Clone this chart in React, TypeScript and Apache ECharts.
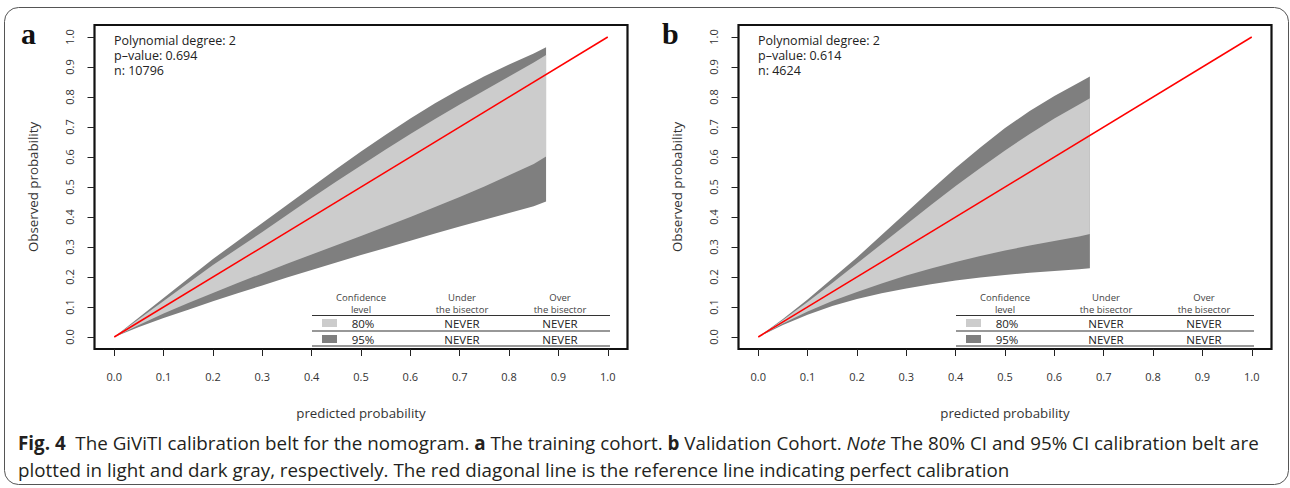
import React, { useEffect, useRef } from "react";
import * as echarts from "echarts";

// ---------- data ----------
const TICKS = [0, 0.1, 0.2, 0.3, 0.4, 0.5, 0.6, 0.7, 0.8, 0.9, 1.0];
const REF_X = [0, 1];
const REF_Y = [0, 1];

// Panel a: training cohort
const XA = [0, 0.05, 0.1, 0.15, 0.2, 0.25, 0.3, 0.35, 0.4, 0.45, 0.5, 0.55, 0.6, 0.65, 0.7, 0.75, 0.8, 0.85, 0.875];
const A_U95 = [0, 0.065, 0.13, 0.195, 0.26, 0.32, 0.38, 0.44, 0.5, 0.56, 0.618, 0.674, 0.728, 0.779, 0.826, 0.869, 0.908, 0.945, 0.966];
const A_U80 = [0, 0.06, 0.12, 0.18, 0.24, 0.295, 0.35, 0.407, 0.463, 0.518, 0.572, 0.625, 0.677, 0.727, 0.775, 0.822, 0.868, 0.915, 0.94];
const A_L80 = [0, 0.04, 0.078, 0.113, 0.147, 0.18, 0.212, 0.244, 0.275, 0.306, 0.337, 0.368, 0.4, 0.433, 0.467, 0.502, 0.539, 0.577, 0.602];
const A_L95 = [0, 0.033, 0.063, 0.091, 0.119, 0.146, 0.172, 0.198, 0.223, 0.248, 0.273, 0.297, 0.321, 0.345, 0.368, 0.391, 0.413, 0.436, 0.452];

// Panel b: validation cohort
const XB = [0, 0.05, 0.1, 0.15, 0.2, 0.25, 0.3, 0.35, 0.4, 0.45, 0.5, 0.55, 0.6, 0.65, 0.672];
const B_U95 = [0, 0.06, 0.125, 0.195, 0.265, 0.34, 0.415, 0.49, 0.563, 0.632, 0.697, 0.753, 0.803, 0.848, 0.868];
const B_U80 = [0, 0.057, 0.117, 0.18, 0.245, 0.31, 0.375, 0.44, 0.503, 0.563, 0.622, 0.677, 0.728, 0.775, 0.796];
const B_L80 = [0, 0.045, 0.085, 0.12, 0.15, 0.178, 0.205, 0.228, 0.25, 0.27, 0.288, 0.305, 0.32, 0.335, 0.343];
const B_L95 = [0, 0.04, 0.074, 0.103, 0.127, 0.146, 0.162, 0.176, 0.188, 0.198, 0.207, 0.214, 0.22, 0.226, 0.229];

const INFO_A = ["Polynomial degree: 2", "p–value: 0.694", "n: 10796"];
const INFO_B = ["Polynomial degree: 2", "p–value: 0.614", "n: 4624"];
const TABLE_HEAD = [["Confidence", "level"], ["Under", "the bisector"], ["Over", "the bisector"]];
const TABLE_ROWS = [["80%", "NEVER", "NEVER"], ["95%", "NEVER", "NEVER"]];

const LIGHT = "#cccccc";
const DARK = "#7f7f7f";
const FONT = "'Open Sans', 'Noto Sans', sans-serif";
const TXT = "#333333";

function bandSeries(xs: number[], up: number[], lo: number[], color: string, idx: number) {
  return {
    type: "custom",
    xAxisIndex: idx,
    yAxisIndex: idx,
    silent: true,
    data: [[0, 0]],
    renderItem: (_p: any, api: any) => {
      const pts: number[][] = [];
      for (let i = 0; i < xs.length; i++) pts.push(api.coord([xs[i], up[i]]));
      for (let i = xs.length - 1; i >= 0; i--) pts.push(api.coord([xs[i], lo[i]]));
      return { type: "polygon", shape: { points: pts }, style: { fill: color, stroke: null } };
    },
  };
}

function xAxisDef(idx: number) {
  return {
    type: "value",
    gridIndex: idx,
    min: -0.04,
    max: 1.04,
    axisLine: { show: false, onZero: false },
    splitLine: { show: false },
    axisTick: { show: true, length: 7, customValues: TICKS, lineStyle: { color: "#222", width: 1 } },
    axisLabel: {
      customValues: TICKS,
      formatter: (v: number) => v.toFixed(1),
      margin: 22,
      fontSize: 11,
      fontFamily: FONT,
      color: TXT,
    },
    name: "predicted probability",
    nameLocation: "middle",
    nameGap: 57,
    nameTextStyle: { fontSize: 13.3, fontFamily: FONT, color: TXT },
  };
}

function yAxisDef(idx: number) {
  return {
    type: "value",
    gridIndex: idx,
    min: -0.04,
    max: 1.04,
    axisLine: { show: false, onZero: false },
    splitLine: { show: false },
    axisTick: { show: true, length: 7, customValues: TICKS, lineStyle: { color: "#222", width: 1 } },
    axisLabel: {
      customValues: TICKS,
      formatter: (v: number) => v.toFixed(1),
      margin: 20,
      rotate: 90,
      fontSize: 11,
      fontFamily: FONT,
      color: TXT,
    },
    name: "Observed probability",
    nameLocation: "middle",
    nameGap: 55,
    nameRotate: 90,
    nameTextStyle: { fontSize: 13.3, fontFamily: FONT, color: TXT },
  };
}

function panelGraphics(dx: number, letter: string, letterX: number, info: string[]) {
  const els: any[] = [];
  els.push({
    type: "text",
    left: letterX,
    top: 18,
    style: { text: letter, font: "bold 30px 'Liberation Serif', 'DejaVu Serif', serif", fill: "#111" },
  });
  info.forEach((t, i) => {
    els.push({
      type: "text",
      x: 114 + dx,
      y: 40 + i * 15,
      style: { text: t, fontSize: 12.5, fontFamily: FONT, fill: "#222", verticalAlign: "middle", align: "left" },
    });
  });
  const colX = [361, 462, 560];
  TABLE_HEAD.forEach((h, c) => {
    h.forEach((t, r) => {
      els.push({
        type: "text",
        x: colX[c] + dx,
        y: 297 + r * 12,
        style: { text: t, fontSize: 9.5, fontFamily: FONT, fill: "#444", align: "center", verticalAlign: "middle" },
      });
    });
  });
  [315.5, 331, 346].forEach((y) => {
    els.push({
      type: "line",
      shape: { x1: 312 + dx, y1: y, x2: 610 + dx, y2: y },
      style: { stroke: "#333", lineWidth: 1.2 },
    });
  });
  const rowY = [323.5, 339.5];
  const sw = [LIGHT, DARK];
  TABLE_ROWS.forEach((row, r) => {
    els.push({
      type: "rect",
      shape: { x: 322 + dx, y: rowY[r] - 4.5, width: 15, height: 8 },
      style: { fill: sw[r] },
    });
    row.forEach((t, c) => {
      els.push({
        type: "text",
        x: colX[c] + dx + (c === 0 ? 2 : 0),
        y: rowY[r],
        style: { text: t, fontSize: 11.5, fontFamily: FONT, fill: "#222", align: "center", verticalAlign: "middle" },
      });
    });
  });
  return els;
}

export default function App() {
  const ref = useRef<HTMLDivElement>(null);
  useEffect(() => {
    document.body.style.margin = "0";
    const chart = echarts.init(ref.current!, null, { renderer: "svg" });
    const gridA = { left: 94.5, top: 25, width: 533, height: 324, show: true, borderColor: "#111", borderWidth: 2.2, backgroundColor: "transparent" };
    const gridB = { left: 738.5, top: 25, width: 533, height: 324, show: true, borderColor: "#111", borderWidth: 2.2, backgroundColor: "transparent" };
    const caption1 =
      "{b|Fig. 4}  The GiViTI calibration belt for the nomogram. {b|a} The training cohort. {b|b} Validation Cohort. {i|Note} The 80% CI and 95% CI calibration belt are";
    const caption2 =
      "plotted in light and dark gray, respectively. The red diagonal line is the reference line indicating perfect calibration";
    const CAP = 18.8;
    const capFont = { fontSize: CAP, fontFamily: FONT, fill: "#231f20" };
    const option: any = {
      animation: false,
      backgroundColor: "#ffffff",
      grid: [gridA, gridB],
      xAxis: [xAxisDef(0), xAxisDef(1)],
      yAxis: [yAxisDef(0), yAxisDef(1)],
      series: [
        bandSeries(XA, A_U95, A_L95, DARK, 0),
        bandSeries(XA, A_U80, A_L80, LIGHT, 0),
        {
          type: "line",
          xAxisIndex: 0,
          yAxisIndex: 0,
          data: REF_X.map((x, i) => [x, REF_Y[i]]),
          symbol: "none",
          silent: true,
          lineStyle: { color: "#ff0000", width: 1.5 },
          z: 5,
        },
        bandSeries(XB, B_U95, B_L95, DARK, 1),
        bandSeries(XB, B_U80, B_L80, LIGHT, 1),
        {
          type: "line",
          xAxisIndex: 1,
          yAxisIndex: 1,
          data: REF_X.map((x, i) => [x, REF_Y[i]]),
          symbol: "none",
          silent: true,
          lineStyle: { color: "#ff0000", width: 1.5 },
          z: 5,
        },
      ],
      graphic: [
        {
          type: "rect",
          shape: { x: 4.5, y: 7.5, width: 1284, height: 477, r: 14 },
          style: { fill: "none", stroke: "#555", lineWidth: 1 },
          silent: true,
        },
        ...panelGraphics(0, "a", 21, INFO_A),
        ...panelGraphics(644, "b", 662, INFO_B),
        {
          type: "text",
          x: 18,
          y: 443,
          style: {
            text: caption1,
            ...capFont,
            verticalAlign: "middle",
            rich: {
              b: { fontWeight: "bold", fontSize: CAP, fontFamily: FONT, fill: "#231f20" },
              i: { fontStyle: "italic", fontSize: CAP, fontFamily: FONT, fill: "#231f20" },
            },
          },
        },
        {
          type: "text",
          x: 18,
          y: 470,
          style: { text: caption2, ...capFont, verticalAlign: "middle" },
        },
      ],
    };
    chart.setOption(option);
    return () => chart.dispose();
  }, []);
  return (
    <div
      ref={ref}
      style={{ position: "absolute", left: 0, top: 0, width: 1290, height: 488, background: "#fff" }}
    />
  );
}
